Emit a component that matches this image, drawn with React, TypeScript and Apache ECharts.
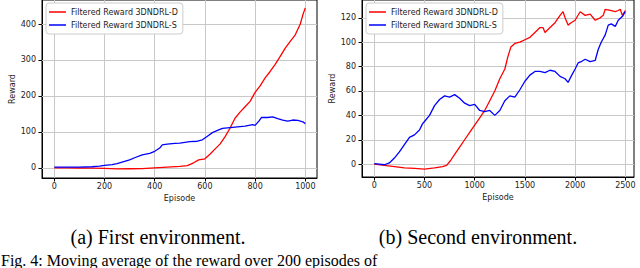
import React, { useEffect, useRef } from "react";
import * as echarts from "echarts";

// ---- First environment (episodes 0..1000)
const env1RedEpisodes = [0, 50, 100, 150, 200, 250, 300, 350, 400, 450, 500, 530, 555, 575, 600, 620, 640, 660, 680, 700, 720, 740, 760, 780, 800, 820, 840, 860, 880, 900, 920, 940, 960, 980, 990, 1000];
const env1RedValues = [0, 0, -0.5, -1, -1.5, -3, -2.5, -2, 0, 2, 4, 6, 14, 22, 25, 38, 52, 66, 86, 110, 138, 155, 170, 185, 210, 228, 250, 268, 288, 310, 333, 352, 370, 400, 425, 445];
const env1BlueEpisodes = [0, 50, 100, 150, 180, 200, 230, 250, 280, 300, 320, 350, 380, 400, 420, 430, 450, 480, 500, 520, 540, 570, 590, 610, 630, 650, 670, 700, 730, 760, 790, 800, 815, 825, 850, 870, 890, 910, 930, 950, 970, 990, 1000];
const env1BlueValues = [2, 2, 2, 3, 5, 7, 9, 12, 18, 22, 28, 36, 40, 46, 55, 64, 66, 68, 69, 71, 73, 74, 78, 88, 98, 104, 110, 112, 114, 116, 120, 118, 130, 140, 140, 142, 137, 133, 130, 133, 132, 128, 123];

// ---- Second environment (episodes 0..2500)
const env2RedEpisodes = [0, 100, 200, 300, 400, 500, 600, 680, 720, 760, 800, 850, 900, 950, 1000, 1050, 1100, 1150, 1200, 1250, 1300, 1330, 1360, 1400, 1450, 1500, 1550, 1600, 1650, 1680, 1700, 1750, 1800, 1850, 1880, 1900, 1930, 1960, 2000, 2050, 2100, 2150, 2200, 2250, 2280, 2300, 2350, 2400, 2430, 2450, 2470, 2500];
const env2RedValues = [0, -1, -2, -3, -3.5, -4, -3, -2, -1, 3, 8, 14, 20, 26, 32, 38, 44, 52, 60, 70, 78, 88, 96, 99, 100, 102, 104, 108, 112, 112, 108, 112, 116, 122, 125, 120, 114, 116, 118, 125, 122, 123, 118, 120, 122, 127, 126, 125, 126, 127, 122, 126];
const env2BlueEpisodes = [0, 50, 100, 150, 200, 250, 300, 350, 400, 450, 480, 500, 550, 600, 650, 700, 750, 800, 850, 900, 950, 1000, 1050, 1100, 1150, 1200, 1250, 1300, 1350, 1400, 1450, 1500, 1550, 1600, 1650, 1700, 1750, 1800, 1850, 1900, 1930, 1960, 2000, 2030, 2060, 2100, 2150, 2200, 2230, 2260, 2300, 2330, 2360, 2400, 2430, 2470, 2500];
const env2BlueValues = [0.5, 0, -0.5, 1, 5, 10, 16, 22, 24, 28, 33, 35, 40, 48, 53, 56, 55, 57, 54, 50, 48, 49, 44, 43, 44, 40, 44, 52, 56, 55, 61, 68, 73, 76, 76, 75, 77, 76, 72, 70, 67, 72, 78, 83, 84, 86, 84, 85, 94, 100, 106, 114, 115, 113, 118, 121, 125];

// ---- ticks
const env1XTicks = [0, 200, 400, 600, 800, 1000];
const env1YTicks = [0, 100, 200, 300, 400];
const env2XTicks = [0, 500, 1000, 1500, 2000, 2500];
const env2YTicks = [0, 20, 40, 60, 80, 100, 120];

const seriesNames = ["Filtered Reward 3DNDRL-D", "Filtered Reward 3DNDRL-S"];
const captions = ["(a) First environment.", "(b) Second environment."];
const figCaption = "Fig. 4: Moving average of the reward over 200 episodes of";
const xName = "Episode";
const yName = "Reward";

const zip = (xs: number[], ys: number[]) => xs.map((x, i) => [x, ys[i]]);

const FONT = "DejaVu Sans";
const GRID_COLOR = "#c8c8c8";

function xAxisFor(gridIndex: number, min: number, max: number, ticks: number[]) {
  return {
    type: "value",
    gridIndex,
    min,
    max,
    name: xName,
    nameLocation: "middle",
    nameGap: 14,
    nameTextStyle: { fontFamily: FONT, fontSize: 8, color: "#222" },
    axisLine: { show: true, onZero: false, lineStyle: { color: "#000", width: 1 } },
    axisTick: { show: true, inside: false, length: 3.5, customValues: ticks, lineStyle: { color: "#000", width: 1 } },
    axisLabel: { customValues: ticks, margin: 4, fontFamily: FONT, fontSize: 8, color: "#222", formatter: (v: number) => String(v) },
    splitLine: { show: false },
  };
}

function yAxisFor(gridIndex: number, min: number, max: number, ticks: number[]) {
  return {
    type: "value",
    gridIndex,
    min,
    max,
    name: yName,
    nameLocation: "middle",
    nameGap: 25,
    nameTextStyle: { fontFamily: FONT, fontSize: 8, color: "#222" },
    axisLine: { show: true, onZero: false, lineStyle: { color: "#000", width: 1 } },
    axisTick: { show: true, inside: false, length: 3.5, customValues: ticks, lineStyle: { color: "#000", width: 1 } },
    axisLabel: { customValues: ticks, margin: 6, fontFamily: FONT, fontSize: 8, color: "#222", formatter: (v: number) => String(v) },
    splitLine: { show: false },
  };
}

function legendFor(left: number) {
  return {
    show: true,
    z: 30,
    zlevel: 0,
    data: seriesNames,
    orient: "vertical",
    left,
    top: 3,
    padding: [4, 5, 4, 3],
    itemGap: 3,
    itemWidth: 17,
    itemHeight: 1.5,
    icon: "rect",
    backgroundColor: "#ffffff",
    borderColor: "#cccccc",
    borderWidth: 1,
    borderRadius: 3,
    textStyle: { fontFamily: FONT, fontSize: 8, color: "#222", lineHeight: 10 },
  };
}

function gridLinesSeries(idx: number, xTicks: number[], yTicks: number[]) {
  return {
    type: "line",
    name: "grid" + idx,
    xAxisIndex: idx,
    yAxisIndex: idx,
    data: [],
    z: 1,
    silent: true,
    markLine: {
      silent: true,
      z: 1,
      symbol: ["none", "none"],
      label: { show: false },
      lineStyle: { color: GRID_COLOR, type: "solid", width: 1 },
      emphasis: { disabled: true },
      data: [...xTicks.map((v) => ({ xAxis: v })), ...yTicks.map((v) => ({ yAxis: v }))],
    },
  };
}

export default function App() {
  const ref = useRef<HTMLDivElement>(null);
  useEffect(() => {
    if (!ref.current) return;
    const chart = echarts.init(ref.current, null, { renderer: "svg" });
    const lineSeries = (name: string, color: string, idx: number, data: number[][]) => ({
      type: "line",
      name,
      xAxisIndex: idx,
      yAxisIndex: idx,
      data,
      z: 3,
      showSymbol: false,
      symbol: "none",
      lineStyle: { color, width: 1.3 },
      itemStyle: { color },
    });
    chart.setOption({
      animation: false,
      backgroundColor: "#ffffff",
      grid: [
        { left: 42, top: -2, width: 275, height: 180, show: true, borderColor: "#000", borderWidth: 1, backgroundColor: "transparent" },
        { left: 362, top: -2, width: 272, height: 179, show: true, borderColor: "#000", borderWidth: 1, backgroundColor: "transparent" },
      ],
      xAxis: [xAxisFor(0, -49, 1046.6, env1XTicks), xAxisFor(1, -122.5, 2586.6, env2XTicks)],
      yAxis: [yAxisFor(0, -28.3, 466.9, env1YTicks), yAxisFor(1, -10.54, 134.6, env2YTicks)],
      legend: [legendFor(46), legendFor(366)],
      series: [
        gridLinesSeries(0, env1XTicks, env1YTicks),
        gridLinesSeries(1, env2XTicks, env2YTicks),
        lineSeries(seriesNames[0], "#ff0000", 0, zip(env1RedEpisodes, env1RedValues)),
        lineSeries(seriesNames[1], "#0000ff", 0, zip(env1BlueEpisodes, env1BlueValues)),
        lineSeries(seriesNames[0], "#ff0000", 1, zip(env2RedEpisodes, env2RedValues)),
        lineSeries(seriesNames[1], "#0000ff", 1, zip(env2BlueEpisodes, env2BlueValues)),
      ],
      graphic: [
        { type: "text", x: 158, y: 237, style: { text: captions[0], fontFamily: "Liberation Serif", fontSize: 20, fill: "#000", textAlign: "center", textVerticalAlign: "middle" } },
        { type: "text", x: 478, y: 237, style: { text: captions[1], fontFamily: "Liberation Serif", fontSize: 20, fill: "#000", textAlign: "center", textVerticalAlign: "middle" } },
        { type: "text", x: 1, y: 268, style: { text: figCaption, fontFamily: "Liberation Serif", fontSize: 16, fill: "#000", textAlign: "left", textVerticalAlign: "bottom" } },
      ],
    });
    return () => chart.dispose();
  }, []);
  return (
    <div
      ref={ref}
      style={{ position: "fixed", left: 0, top: 0, width: 640, height: 268, background: "#fff" }}
    />
  );
}
